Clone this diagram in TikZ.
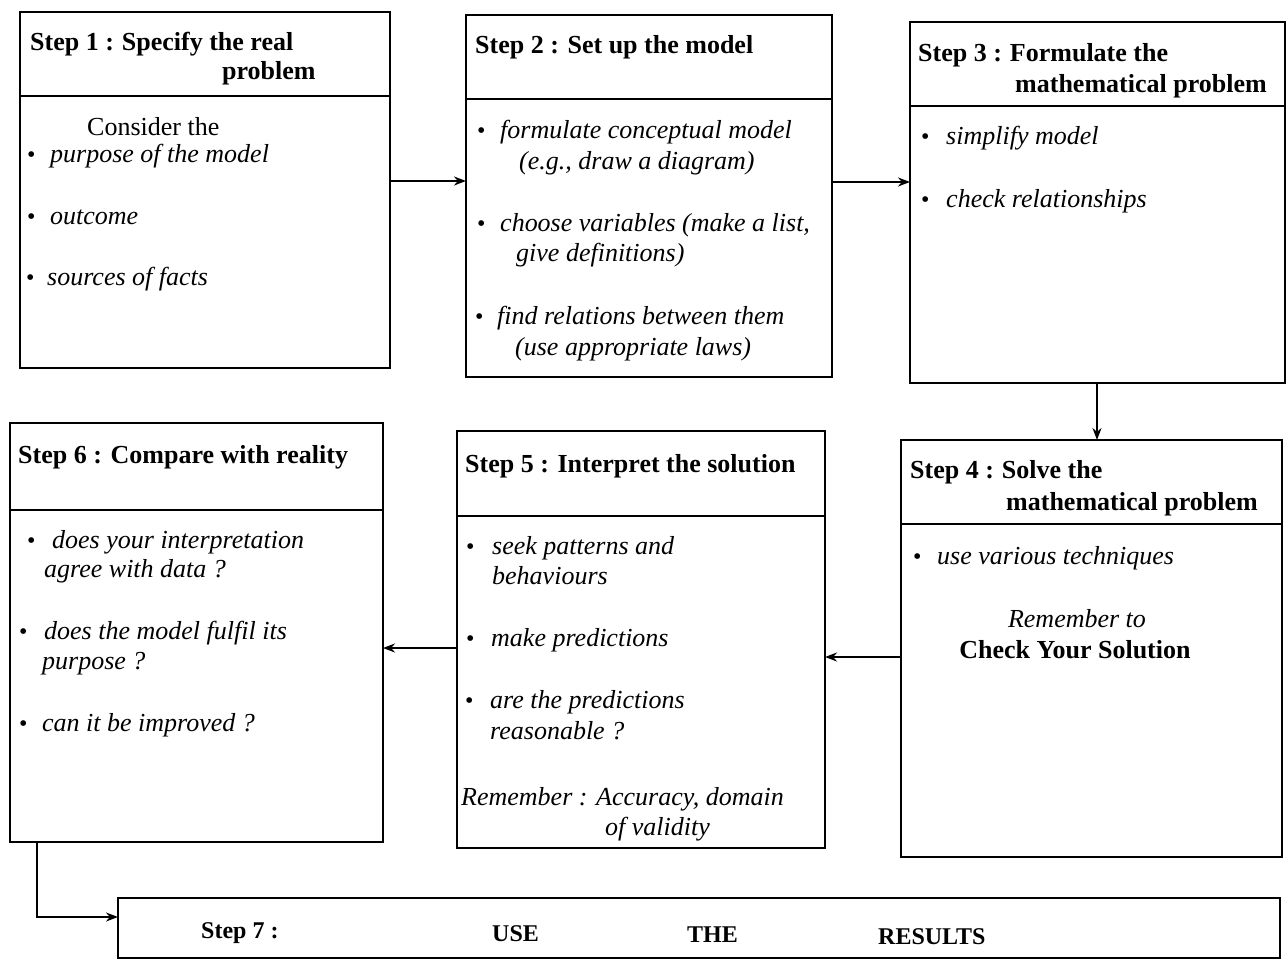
\documentclass[tikz,border=0pt]{standalone}
\usepackage{fontspec}
\setmainfont{Liberation Serif}
\usetikzlibrary{arrows.meta}
\begin{document}
\begin{tikzpicture}[x=1pt,y=-1pt,
 box/.style={draw, line width=2.8pt, inner sep=0pt, outer sep=0pt, anchor=north west},
 divider/.style={line width=2.8pt},
 hd/.style={anchor=base west, inner sep=0pt, font=\fontsize{26}{31}\selectfont\bfseries},
 it/.style={anchor=base west, inner sep=0pt, font=\fontsize{26}{31}\selectfont\itshape},
 rm/.style={anchor=base west, inner sep=0pt, font=\fontsize{26}{31}\selectfont},
 bul/.style={anchor=base west, inner sep=0pt, font=\fontsize{24}{28}\selectfont},
 sevenfont/.style={anchor=base west, inner sep=0pt, font=\fontsize{24}{28}\selectfont\bfseries},
 arr/.style={line width=2.2pt, -{Stealth[length=12pt,width=9pt]}}
]
\useasboundingbox[fill=white] (0,0) rectangle (1288,971);

% boxes
\node[box, minimum width=370pt, minimum height=356pt] (b1) at (20,12) {};
\node[box, minimum width=366pt, minimum height=362pt] (b2) at (466,15) {};
\node[box, minimum width=375pt, minimum height=361pt] (b3) at (910,22) {};
\node[box, minimum width=381pt, minimum height=417pt] (b4) at (901,440) {};
\node[box, minimum width=368pt, minimum height=417pt] (b5) at (457,431) {};
\node[box, minimum width=373pt, minimum height=419pt] (b6) at (10,423) {};
\node[box, minimum width=1162pt, minimum height=60pt] (b7) at (118,898) {};

% header dividers
\draw[divider] (b1.west |- 0,96) -- (b1.east |- 0,96);
\draw[divider] (b2.west |- 0,99) -- (b2.east |- 0,99);
\draw[divider] (b3.west |- 0,106) -- (b3.east |- 0,106);
\draw[divider] (b4.west |- 0,524) -- (b4.east |- 0,524);
\draw[divider] (b5.west |- 0,516) -- (b5.east |- 0,516);
\draw[divider] (b6.west |- 0,510) -- (b6.east |- 0,510);

% Step 1
\node[hd] (t1a) at (30,51) {Step 1 :\hspace{8pt}Specify the real};
\node[hd] (t1b) at (222,80) {problem};
\node[rm] (t1c) at (87,136) {Consider the};
\node[bul] (d1a) at (27,163) {•};
\node[it] (t1d) at (50,163) {purpose of the model};
\node[bul] (d1b) at (27,224) {•};
\node[it] (t1e) at (50,224) {outcome};
\node[bul] (d1c) at (26,285) {•};
\node[it] (t1f) at (47,285) {sources of facts};

% Step 2
\node[hd] (t2a) at (475,54) {Step 2 : Set up the model};
\node[bul] (d2a) at (477,139) {•};
\node[it] (t2b) at (500,139) {formulate conceptual model};
\node[it] (t2c) at (519,169) {(e.g., draw a diagram)};
\node[bul] (d2b) at (477,231) {•};
\node[it] (t2d) at (500,231) {choose variables (make a list,};
\node[it] (t2e) at (516,261) {give definitions)};
\node[bul] (d2c) at (475,324) {•};
\node[it] (t2f) at (497,324) {find relations between them};
\node[it] (t2g) at (515,355) {(use appropriate laws)};

% Step 3
\node[hd] (t3a) at (918,62) {Step 3 :\hspace{8pt}Formulate the};
\node[hd] (t3b) at (1015,93) {mathematical problem};
\node[bul] (d3a) at (921,145) {•};
\node[it] (t3c) at (946,145) {simplify model};
\node[bul] (d3b) at (921,207) {•};
\node[it] (t3d) at (946,207) {check relationships};

% Step 4
\node[hd] (t4a) at (910,478) {Step 4 :\hspace{8pt}Solve the};
\node[hd] (t4b) at (1006,510) {mathematical problem};
\node[bul] (d4a) at (913,564) {•};
\node[it] (t4c) at (937,564) {use various techniques};
\node[anchor=base, inner sep=0pt, font=\fontsize{26}{31}\selectfont\itshape] (t4d) at (1077,627) {Remember to};
\node[anchor=base, inner sep=0pt, font=\fontsize{26}{31}\selectfont\bfseries] (t4e) at (1075,658) {Check Your Solution};

% Step 5
\node[hd] (t5a) at (465,472) {Step 5 : Interpret the solution};
\node[bul] (d5a) at (466,554) {•};
\node[it] (t5b) at (492,554) {seek patterns and};
\node[it] (t5c) at (492,584) {behaviours};
\node[bul] (d5b) at (466,646) {•};
\node[it] (t5d) at (491,646) {make predictions};
\node[bul] (d5c) at (465,708) {•};
\node[it] (t5e) at (490,708) {are the predictions};
\node[it] (t5f) at (490,739) {reasonable ?};
\node[it] (t5g) at (461,805) {Remember : Accuracy, domain};
\node[it] (t5h) at (605,835) {of validity};

% Step 6
\node[hd] (t6a) at (18,463) {Step 6 : Compare with reality};
\node[bul] (d6a) at (27,548) {•};
\node[it] (t6b) at (52,548) {does your interpretation};
\node[it] (t6c) at (44,577) {agree with data ?};
\node[bul] (d6b) at (19,639) {•};
\node[it] (t6d) at (44,639) {does the model fulfil its};
\node[it] (t6e) at (42,669) {purpose ?};
\node[bul] (d6c) at (19,731) {•};
\node[it] (t6f) at (42,731) {can it be improved ?};

% Step 7
\node[sevenfont] (t7a) at (201,938) {Step 7 :};
\node[sevenfont] (t7b) at (492,941) {USE};
\node[sevenfont] (t7c) at (687,942) {THE};
\node[sevenfont] (t7d) at (878,944) {RESULTS};

% connectors
\draw[arr] (b1.east |- 0,181) -- (b2.west |- 0,181);
\draw[arr] (b2.east |- 0,182) -- (b3.west |- 0,182);
\draw[arr] (b3.south -| 1097,0) -- (b4.north -| 1097,0);
\draw[arr] (b4.west |- 0,657) -- (b5.east |- 0,657);
\draw[arr] (b5.west |- 0,648) -- (b6.east |- 0,648);
\draw[arr] (b6.south -| 37,0) -- (37,917) -- (b7.west |- 0,917);
\end{tikzpicture}
\end{document}
